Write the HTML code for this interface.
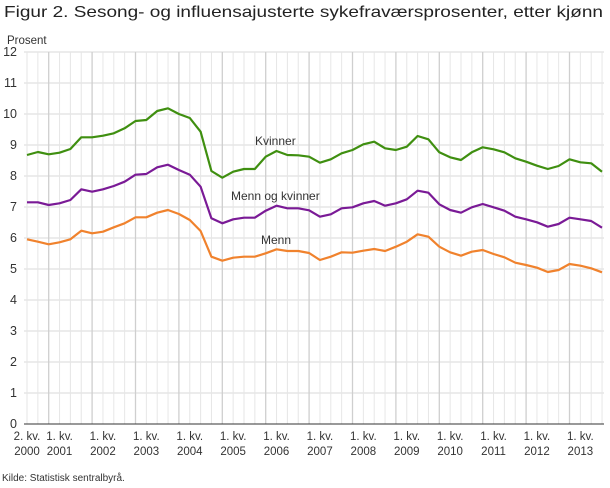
<!DOCTYPE html>
<html><head><meta charset="utf-8"><style>
body{margin:0;background:#fff;}
svg{display:block;font-family:"Liberation Sans",sans-serif;}
</style></head><body>
<svg width="610" height="488" viewBox="0 0 610 488">
<text x="4" y="17" font-size="16" fill="#222" textLength="599" lengthAdjust="spacingAndGlyphs">Figur 2. Sesong- og influensajusterte sykefraværsprosenter, etter kjønn</text>
<text x="7" y="44" font-size="11.5" fill="#333">Prosent</text>
<g id="grid"></g>
<g id="lines"></g>
<g font-size="12" fill="#333">
<text x="255" y="145">Kvinner</text>
<text x="231" y="200">Menn og kvinner</text>
<text x="261" y="244">Menn</text>
</g>
<g id="xl" font-size="11.5" fill="#333"></g>
<text x="2" y="481" font-size="10" fill="#333">Kilde: Statistisk sentralbyrå.</text>
</svg>
<script>
const ns="http://www.w3.org/2000/svg";
function el(p,t,a,txt){const e=document.createElementNS(ns,t);for(const k in a)e.setAttribute(k,a[k]);if(txt!==undefined)e.textContent=txt;document.getElementById(p).appendChild(e);return e;}
const X0=27,DX=10.85;
for(let v=0;v<=12;v++){const y=424-31*v;
 if(v>0)el('grid','line',{x1:24,x2:604,y1:y,y2:y,stroke:'#d9d9d9','stroke-width':1});
 el('grid','text',{x:17,y:y+4,'text-anchor':'end','font-size':12.5,fill:'#333'},String(v));}
for(let i=0;i<54;i++){const x=X0+i*DX;const yr=(i+1)%4==3;
 el('grid','line',{x1:x,x2:x,y1:52,y2:424,stroke:yr?'#cfcfcf':'#e6e6e6','stroke-width':yr?1.3:1});}
el('grid','line',{x1:24,x2:604,y1:424,y2:424,stroke:'#333','stroke-width':1});
const g=[155,152,154.3,152.7,149,137.3,137.3,135.7,133.3,128.3,121,120,111,108.3,114,118,131.7,171,177.7,171.7,169,169,156.7,151,155,155.3,156.7,162.7,159.3,153.3,150,144.3,141.7,148.3,150,146.7,136,139.3,152.3,157.3,160,152.3,147.3,149.3,152.3,158.3,161.7,165.7,169,166,159.3,162.3,163.3,171.7];
const p=[202.3,202.3,205,203.3,200,189.3,191.7,189.3,186,181.7,174.7,174,167.3,164.7,170,174.7,186.7,218.3,223.3,219.3,217.7,217.7,210.7,205.7,208.3,208.3,210.3,216.7,214.3,208.3,207.3,203.3,201,205.7,203.3,199.3,190.7,192.7,204.3,210,212.7,207.3,204,207.3,210.7,216.7,219.3,222.3,226.7,224,217.7,219.3,221,227.7];
const o=[239.3,241.7,244.3,242.3,239.3,230.7,233.3,231.7,227.3,223.3,217.3,217.3,212.7,210,214,220,231,256.7,260.7,257.7,256.7,256.7,253.3,249.3,251,251,253,260,256.7,252.3,252.7,250.7,249,251,246.7,241.7,234.3,236.7,246.7,252.3,255.7,251.7,250,254,257.3,262.7,265,267.7,272,270,264,265.7,268.3,272.3];
[[g,'#3f8f10'],[p,'#7a1a96'],[o,'#f0822d']].forEach(([d,c])=>{
 el('lines','polyline',{points:d.map((y,i)=>(X0+i*DX).toFixed(1)+','+y).join(' '),fill:'none',stroke:c,'stroke-width':2.2,'stroke-linejoin':'round'});});
el('xl','text',{x:27,y:440,'text-anchor':'middle'},'2. kv.');
el('xl','text',{x:27,y:455,'text-anchor':'middle'},'2000');
for(let yr=2001;yr<=2013;yr++){const i=3+(yr-2001)*4;const x=X0+i*DX;
 el('xl','text',{x:x,y:440,'text-anchor':'middle'},'1. kv.');
 el('xl','text',{x:x,y:455,'text-anchor':'middle'},String(yr));}
</script>
</body></html>
